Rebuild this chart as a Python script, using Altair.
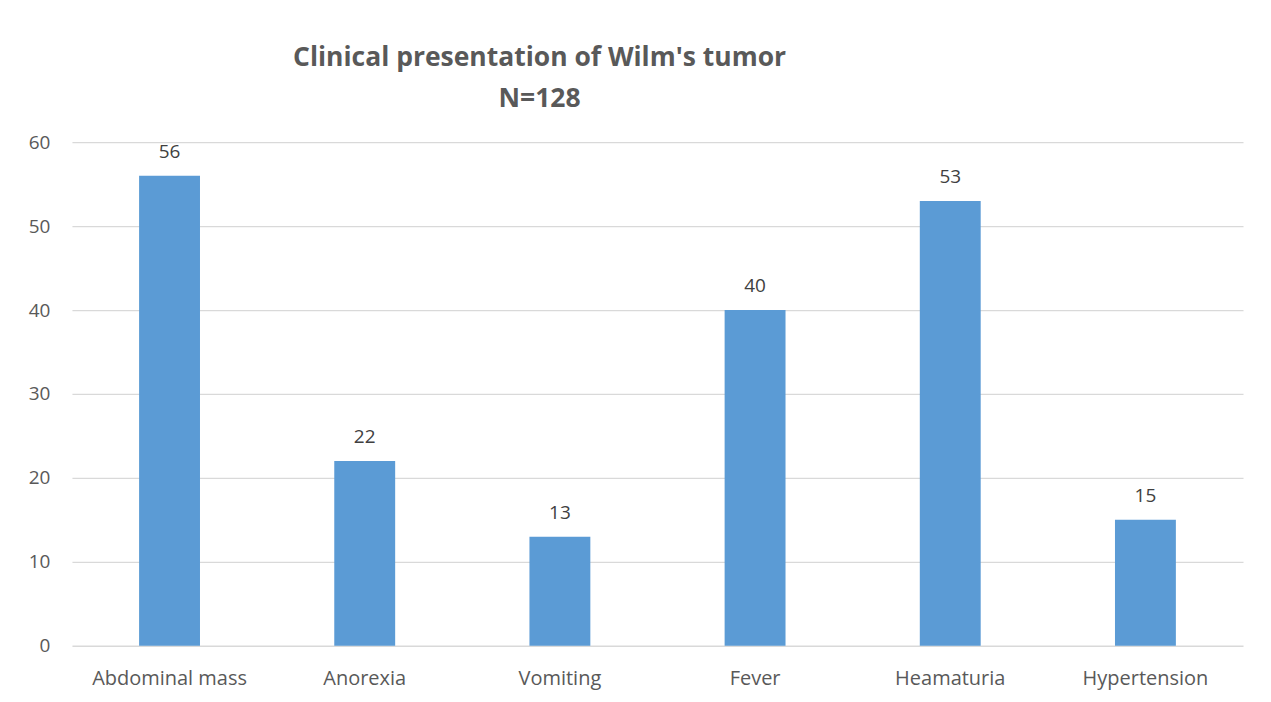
import altair as alt
import pandas as pd

categories = ["Abdominal mass", "Anorexia", "Vomiting", "Fever", "Heamaturia", "Hypertension"]
values = [56, 22, 13, 40, 53, 15]
y_ticks = [0, 10, 20, 30, 40, 50, 60]

df = pd.DataFrame({"symptom": categories, "count": values})

FONT = "Open Sans"
GREY = "#595959"

base = alt.Chart(df).encode(
    x=alt.X("symptom:N", sort=categories, title=None,
            scale=alt.Scale(paddingInner=0.688, paddingOuter=0.344),
            axis=alt.Axis(labelAngle=0, labelFontSize=20, labelColor=GREY, labelFont=FONT,
                          labelPadding=23, ticks=False, domain=False, grid=False)),
    y=alt.Y("count:Q", title=None,
            scale=alt.Scale(domain=[0, 60], nice=False),
            axis=alt.Axis(values=y_ticks, labelFontSize=19, labelColor=GREY, labelFont=FONT,
                          labelPadding=22, ticks=False, domain=False, grid=True,
                          gridColor="#d9d9d9", gridWidth=1.3)),
)

bars = base.mark_bar(color="#5B9BD5")
labels = base.mark_text(dy=-24, fontSize=19, color="#404040", font=FONT).encode(
    text=alt.Text("count:Q"))

chart = (bars + labels).properties(
    width=1172, height=504,
    title=alt.TitleParams(["Clinical presentation of Wilm's tumor", "N=128"],
                          anchor="middle", dx=-118, fontSize=26.5, fontWeight="bold",
                          color=GREY, font=FONT, lineHeight=41, offset=21),
    autosize=alt.AutoSizeParams(type="none"),
    padding={"left": 64, "top": 134, "right": 20, "bottom": 54},
).configure(background="white").configure_view(stroke=None)

chart.save("out.html", embed_options={"renderer": "svg", "actions": False})
